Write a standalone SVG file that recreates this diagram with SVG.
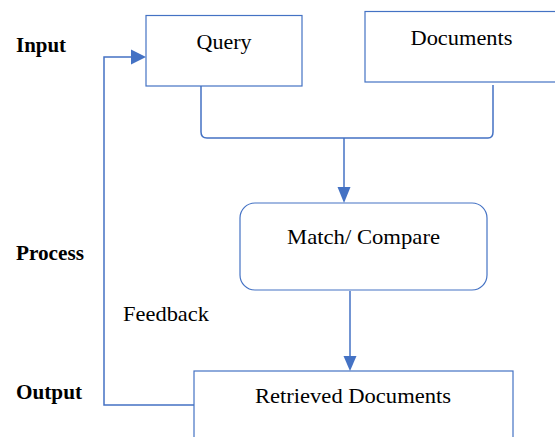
<svg xmlns="http://www.w3.org/2000/svg" width="555" height="437" viewBox="0 0 555 437">
  <style>
    .box { fill: #ffffff; stroke: #4472C4; stroke-width: 1.2; }
    .wire { fill: none; stroke: #4472C4; stroke-width: 1.5; }
    .lbl { font-family: "Liberation Serif", "DejaVu Serif", serif; font-size: 21px; fill: #000000; }
    .stage { font-family: "Liberation Serif", "DejaVu Serif", serif; font-size: 20px; font-weight: bold; fill: #000000; }
  </style>

  <rect width="555" height="437" fill="#ffffff"/>

  <!-- stage labels -->
  <g id="stages">
    <text class="stage" x="16" y="52" textLength="50" lengthAdjust="spacingAndGlyphs">Input</text>
    <text class="stage" x="16" y="260" textLength="68" lengthAdjust="spacingAndGlyphs">Process</text>
    <text class="stage" x="16" y="399" textLength="66" lengthAdjust="spacingAndGlyphs">Output</text>
  </g>

  <!-- connectors -->
  <g id="connectors">
    <!-- bracket joining Query and Documents -->
    <path class="wire" d="M201,86 L201,132 Q201,138 207,138 L488,138 Q493,138 493,132 L493,85"/>
    <!-- merge down to Match/Compare -->
    <path class="wire" d="M344,138 L344,187"/>
    <path d="M337.5,187 L350.5,187 L344,203 Z" fill="#4472C4"/>
    <!-- Match/Compare to Retrieved Documents -->
    <path class="wire" d="M350,291 L350,356"/>
    <path d="M343.5,356 L356.5,356 L350,371 Z" fill="#4472C4"/>
    <!-- feedback loop -->
    <path class="wire" d="M194,405 L104,405 L104,57 L131,57"/>
    <path d="M131,49.5 L131,64.5 L146,57 Z" fill="#4472C4"/>
  </g>

  <g id="query">
    <rect class="box" x="146" y="15.5" width="156" height="70.5"/>
    <text class="lbl" x="224" y="48.5" text-anchor="middle" textLength="55" lengthAdjust="spacingAndGlyphs">Query</text>
  </g>

  <g id="documents">
    <rect class="box" x="365" y="11.5" width="200" height="70.5"/>
    <text class="lbl" x="461.5" y="44.5" text-anchor="middle" textLength="102" lengthAdjust="spacingAndGlyphs">Documents</text>
  </g>

  <g id="match">
    <rect class="box" x="240" y="203" width="247" height="87" rx="15" ry="15"/>
    <text class="lbl" x="363.5" y="243.5" text-anchor="middle" textLength="153" lengthAdjust="spacingAndGlyphs">Match/ Compare</text>
  </g>

  <g id="feedback-label">
    <text class="lbl" x="123" y="321" textLength="86" lengthAdjust="spacingAndGlyphs">Feedback</text>
  </g>

  <g id="retrieved">
    <rect class="box" x="194" y="371" width="319" height="80"/>
    <text class="lbl" x="353" y="403" text-anchor="middle" textLength="196" lengthAdjust="spacingAndGlyphs">Retrieved Documents</text>
  </g>
</svg>
